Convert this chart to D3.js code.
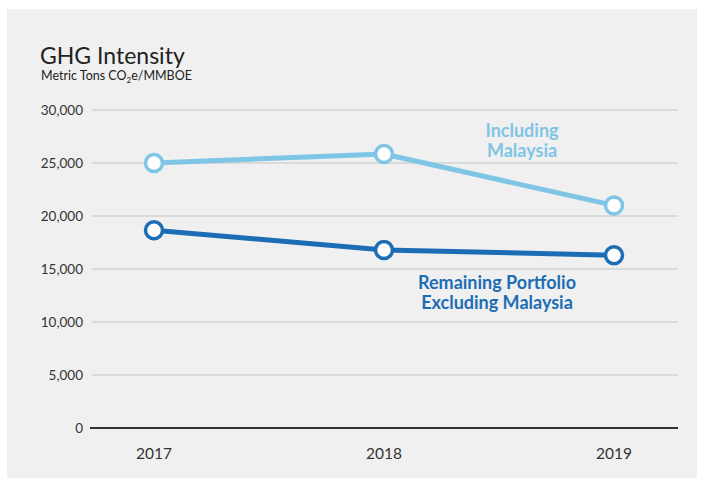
<!DOCTYPE html>
<html><head><meta charset="utf-8">
<script src="https://cdn.jsdelivr.net/npm/d3@7"></script>
<style>body{margin:0;background:#fff}svg{display:block}</style>
</head><body>
<script>
const years = ["2017","2018","2019"];
const including = [25000, 25850, 21000];
const remaining = [18650, 16800, 16300];
const yTicks = [0,5000,10000,15000,20000,25000,30000];

const W=705,H=484;
const svg=d3.select("body").append("svg").attr("width",W).attr("height",H);
svg.append("rect").attr("x",7).attr("y",9).attr("width",690).attr("height",469).attr("fill","#f0f0f0");

const x=d3.scalePoint().domain(years).range([154,614]);
const y=d3.scaleLinear().domain([0,30000]).range([428,110]);

svg.append("text").attr("x",40).attr("y",64).text("GHG Intensity")
  .attr("font-family","Lato, sans-serif").attr("font-size",23).attr("fill","#222");
const sub=svg.append("text").attr("x",41).attr("y",80)
  .attr("font-family","Lato, sans-serif").attr("font-size",12.5).attr("fill","#222");
sub.append("tspan").text("Metric Tons CO");
sub.append("tspan").text("2").attr("font-size",8).attr("dy",3);
sub.append("tspan").text("e/MMBOE").attr("dy",-3);

// grid
svg.append("g").selectAll("line").data(yTicks.filter(d=>d>0)).join("line")
  .attr("x1",92).attr("x2",678).attr("y1",d=>y(d)).attr("y2",d=>y(d))
  .attr("stroke","#d3d3d3").attr("stroke-width",1.5);
svg.append("line").attr("x1",90).attr("x2",678).attr("y1",y(0)).attr("y2",y(0))
  .attr("stroke","#333").attr("stroke-width",2);

svg.append("g").selectAll("text").data(yTicks).join("text")
  .attr("x",83).attr("y",d=>y(d)+5).attr("text-anchor","end")
  .attr("font-family","Lato, sans-serif").attr("font-size",13.5).attr("fill","#333")
  .text(d=>d3.format(",")(d));

svg.append("g").selectAll("text").data(years).join("text")
  .attr("x",d=>x(d)).attr("y",459).attr("text-anchor","middle")
  .attr("font-family","Lato, sans-serif").attr("font-size",15.5).attr("fill","#333")
  .text(d=>d);

const line=d3.line().x((d,i)=>x(years[i])).y(d=>y(d));
function series(vals,color){
  svg.append("path").attr("d",line(vals)).attr("fill","none").attr("stroke",color).attr("stroke-width",5);
  svg.append("g").selectAll("circle").data(vals).join("circle")
    .attr("cx",(d,i)=>x(years[i])).attr("cy",d=>y(d)).attr("r",8.5)
    .attr("fill","#fff").attr("stroke",color).attr("stroke-width",3.5);
}
series(including,"#7fc5e5");
series(remaining,"#1c6db4");

function label(lines,cx,y0,color){
  svg.append("g").selectAll("text").data(lines).join("text")
    .attr("x",cx).attr("y",(d,i)=>y0+i*20).attr("text-anchor","middle")
    .attr("font-family","Lato, sans-serif").attr("font-weight","bold").attr("font-size",18)
    .attr("fill",color).text(d=>d);
}
label(["Including","Malaysia"],522,137,"#7fc5e5");
label(["Remaining Portfolio","Excluding Malaysia"],497,289,"#1c6db4");
</script>
</body></html>
